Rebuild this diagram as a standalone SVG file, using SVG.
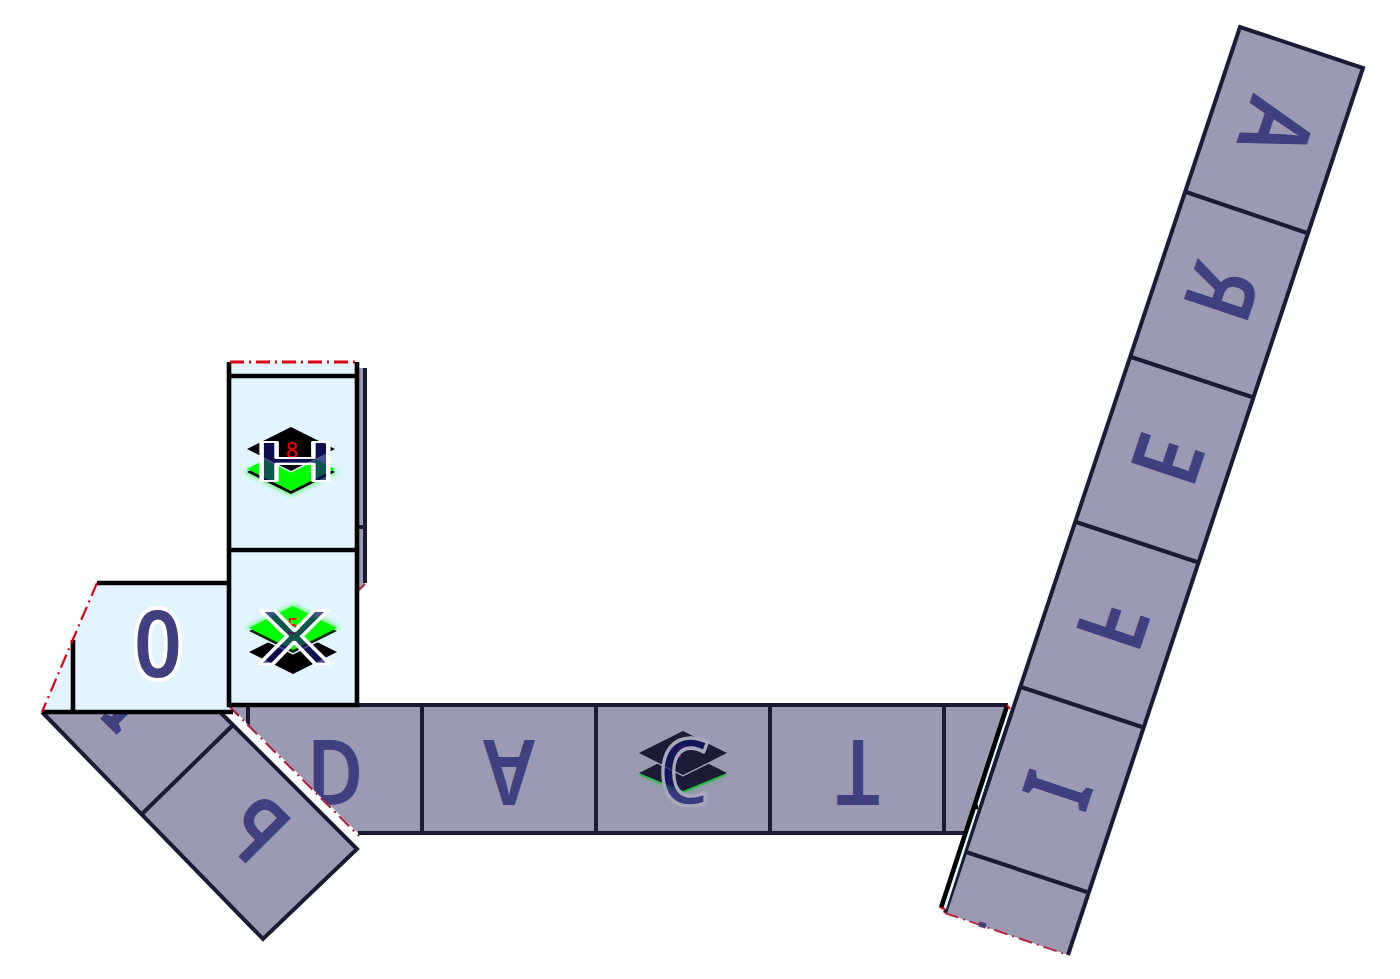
<svg xmlns="http://www.w3.org/2000/svg" width="1400" height="979" viewBox="0 0 1400 979">
<defs>
<filter id="gl" x="-30%" y="-30%" width="160%" height="160%"><feGaussianBlur stdDeviation="2.5"/></filter>
<path id="dia" d="M0 -22L44 0L0 22L-44 0Z" stroke-linejoin="round"/>
</defs>
<style>
.s{fill:#9a9ab2}
.e{fill:none;stroke:#1b1b35;stroke-width:4;stroke-linejoin:miter}
.d{fill:none;stroke:#1b1b35;stroke-width:4}
.k{fill:none;stroke:#000;stroke-width:4.6}
.r{fill:none;stroke:#e00010;stroke-width:2.2;stroke-dasharray:14 5 2 5}
.t{font-family:"Noto Sans","Liberation Sans",sans-serif;font-size:90px;font-weight:600;fill:#404080;text-anchor:middle}
.b{font-size:94px}
.o{stroke:#fff;stroke-width:8;paint-order:stroke;stroke-linejoin:round}
.v{font-weight:600;fill:#14146c;fill-opacity:.72;stroke:#fff;stroke-width:3.5;stroke-linejoin:round;vector-effect:non-scaling-stroke}
.n{font-family:"Noto Sans","Liberation Sans",sans-serif;font-size:21px;text-anchor:middle}
</style>
<rect width="1400" height="979" fill="#fff"/>

<g id="back-strip">
<path d="M358 368H365V584L358 592Z" fill="#9a9ab2"/>
<path d="M365 368V583" class="d"/>
<path d="M358 527H364" class="d"/>
<path d="M359 590L365 584" stroke="#b02040" stroke-width="2"/>
</g>

<g id="bottom-strip">
<path d="M229 705H1008L965 833H358Z" class="s"/>
<path d="M229 705H1008M358 833H965" class="e"/>
<path d="M248 705V728M422 705V833M596 705V833M770 705V833M944 705V833" class="d"/>
<text class="t" transform="translate(335 772) scale(.86 -1)" y="32">D</text>
<text class="t" transform="translate(509 772) scale(.86 -1)" y="32">A</text>
<text class="t" transform="translate(858 772) scale(.86 -1)" y="32">T</text>
<g id="icon-c" transform="translate(683 753)">
<path d="M-44 22L-22 11L0 20L22 11L44 22L0 42Z" fill="#20c040" filter="url(#gl)" opacity=".35"/>
<path d="M-44 22L-22 11L0 21L22 11L44 22L0 40Z" fill="#20c040"/>
<path d="M-44 20L-22 9L0 19L22 9L44 20L0 38Z" fill="#1b1b35"/>
<use href="#dia" fill="#1b1b35" stroke="#9a9ab2" stroke-width="3"/>
<use href="#dia" fill="#1b1b35"/>
<text class="n" x="-2" y="4" fill="#a01040">r</text>
<text class="t v" style="stroke:#a8a8bc;stroke-width:3.5" transform="translate(1 52) scale(.9 1.03)">C</text>
</g>
</g>

<g id="left-strip">
<path d="M42 712H220L357 849L263 939Z" class="s"/>
<path d="M229 706L360 836L357 849L221 713Z" fill="#fff"/>
<path d="M42 712L263 939L357 849L220 712" class="e"/>
<path d="M142 814L234 724" class="d"/>
<path d="M229 706L359 836" stroke="#b02040" stroke-width="2.2" stroke-dasharray="14 5 2 5" fill="none"/>
<text class="t" transform="translate(256 829) rotate(-135) scale(.86 -1)" y="32">P</text>
<text class="t" transform="translate(131 704) rotate(-135) scale(.86 -1)" y="32">I</text>
</g>

<g id="light-cells">
<path d="M97 583H229V712H42Z" fill="#e2f4ff"/>
<path d="M97 583H229M73 640V712M42 712H233" class="k"/>
<path d="M97 583L42 712" class="r"/>
<text class="t o" transform="translate(158 677) scale(.9 1)" style="font-size:93px">0</text>
<rect x="229" y="362" width="128" height="343" fill="#e2f4ff"/>
<path d="M229 362V705H357V362M229 376H357M229 550H357" class="k"/>
<path d="M230 362H356" class="r" style="stroke-width:3"/>
</g>

<g id="icon-h" transform="translate(291 449)">
<use href="#dia" y="23" fill="#00ff00" stroke="#00ff00" stroke-width="3" filter="url(#gl)" opacity=".6"/>
<use href="#dia" y="23" fill="#000"/>
<use href="#dia" y="20" fill="#00ff00"/>
<use href="#dia" fill="#000" stroke="#e2f4ff" stroke-width="3"/>
<use href="#dia" fill="#000"/>
<text class="n" x="1" y="9" fill="#ff0000">8</text>
<text class="t v" transform="translate(4 32) scale(1.3 .61)">H</text>
</g>

<g id="icon-x" transform="translate(293 629)">
<use href="#dia" y="23" fill="#000"/>
<use href="#dia" y="-1" fill="#00ff00" stroke="#00ff00" stroke-width="3" filter="url(#gl)" opacity=".6"/>
<use href="#dia" y="2" fill="#0a2a0a" stroke="#e2f4ff" stroke-width="3"/>
<use href="#dia" y="2" fill="#0a2a0a"/>
<use href="#dia" y="-1" fill="#00ff00"/>
<text class="n" x="0" y="5" fill="#ff0000">5</text>
<text class="t v" style="font-weight:500" transform="translate(1.5 34.5) scale(1.3 .83)">X</text>
</g>

<g id="right-strip">
<path d="M1240 27L1363 68L1068 955L945 913Z" class="s"/>
<path d="M945 913L1240 27L1363 68L1068 955" class="e"/>
<path d="M1186 192L1307 233M1131 357L1252 397M1076 522L1197 562M1021 687L1142 727M966 852L1087 892" class="d"/>
<path d="M945 913L1068 955" stroke="#c02040" stroke-width="2" stroke-dasharray="14 5 2 5"/>
<path d="M1009 708L945 909" stroke="#dff" stroke-width="2"/>
<path d="M1007 706L941 908M975 807h3" class="k"/>
<path d="M1007 705l3 4M941 908l4 1" stroke="#f00" stroke-width="2"/>
<path d="M979 924l7 2" stroke="#404080" stroke-width="5"/>
<text class="t b" transform="translate(1276 128) rotate(-71.6) scale(.84 -1)" y="33">A</text>
<text class="t b" transform="translate(1221 292) rotate(-71.6) scale(.84 -1)" y="33">R</text>
<text class="t b" transform="translate(1167 459) rotate(-71.6) scale(.84 -1)" y="33">E</text>
<text class="t b" transform="translate(1112 625) rotate(-71.6) scale(.84 -1)" y="33">F</text>
<text class="t b" transform="translate(1057 790) rotate(-71.6) scale(.84 -1)" y="33">I</text>
</g>
</svg>
